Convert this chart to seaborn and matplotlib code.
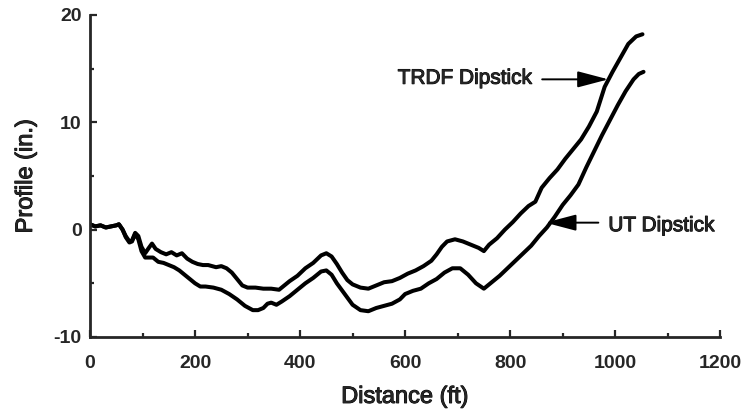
import numpy as np
import pandas as pd
import matplotlib
matplotlib.use("Agg")
import matplotlib.pyplot as plt
import matplotlib.patheffects as pe
import seaborn as sns
from matplotlib.ticker import MultipleLocator

# TRDF Dipstick (upper curve)
trdf_x = [0, 10, 20, 30, 40, 50, 55, 62, 68, 75, 80, 86, 92, 98, 105, 112, 118, 125, 135, 145,
          155, 165, 175, 185, 195, 205, 215, 225, 240, 250, 260, 270, 280, 290, 300, 315, 330,
          345, 360, 370, 380, 395, 410, 425, 440, 450, 460, 470, 480, 490, 500, 515, 530, 545,
          560, 575, 590, 605, 620, 635, 650, 660, 670, 680, 695, 710, 725, 740, 750, 760, 775,
          790, 805, 820, 835, 848, 860, 875, 890, 905, 920, 935, 950, 965, 980, 995, 1010, 1025,
          1040, 1052]
trdf_y = [0.5, 0.3, 0.4, 0.2, 0.3, 0.4, 0.5, 0.0, -0.6, -1.1, -1.0, -0.3, -0.6, -1.6, -2.2, -1.7,
          -1.3, -1.8, -2.1, -2.3, -2.1, -2.4, -2.2, -2.7, -3.0, -3.2, -3.3, -3.3, -3.5, -3.4, -3.6,
          -4.0, -4.6, -5.2, -5.4, -5.4, -5.5, -5.5, -5.6, -5.2, -4.8, -4.3, -3.6, -3.1, -2.4, -2.2,
          -2.5, -3.2, -4.0, -4.7, -5.1, -5.4, -5.5, -5.2, -4.9, -4.8, -4.5, -4.1, -3.8, -3.4, -2.9,
          -2.3, -1.6, -1.1, -0.9, -1.1, -1.4, -1.7, -2.0, -1.4, -0.8, 0.0, 0.7, 1.5, 2.2, 2.6, 3.9,
          4.8, 5.6, 6.6, 7.5, 8.4, 9.6, 11.0, 13.3, 14.7, 16.0, 17.3, 18.0, 18.2]

# UT Dipstick (lower curve)
ut_x = [0, 10, 20, 30, 40, 50, 55, 62, 68, 75, 80, 86, 92, 98, 105, 112, 120, 130, 140, 150,
        160, 170, 180, 190, 200, 210, 220, 235, 250, 265, 280, 295, 310, 320, 330, 338, 345, 355,
        365, 380, 395, 410, 425, 440, 450, 460, 470, 485, 500, 515, 530, 545, 560, 575, 590, 600,
        615, 630, 645, 660, 675, 690, 705, 720, 735, 750, 765, 780, 795, 810, 825, 840, 855, 870,
        885, 900, 915, 930, 945, 960, 975, 990, 1005, 1020, 1035, 1045, 1054]
ut_y = [0.5, 0.3, 0.4, 0.2, 0.3, 0.4, 0.5, 0.0, -0.7, -1.2, -1.1, -0.4, -0.9, -2.0, -2.6, -2.6,
        -2.6, -3.0, -3.1, -3.3, -3.5, -3.8, -4.2, -4.6, -5.0, -5.3, -5.3, -5.4, -5.6, -6.0, -6.5,
        -7.1, -7.5, -7.5, -7.3, -6.9, -6.8, -7.0, -6.7, -6.2, -5.6, -5.0, -4.5, -3.9, -3.8, -4.2,
        -5.0, -6.0, -7.0, -7.5, -7.6, -7.3, -7.1, -6.9, -6.5, -6.0, -5.7, -5.5, -5.0, -4.6, -4.0,
        -3.6, -3.6, -4.2, -5.0, -5.5, -4.9, -4.3, -3.6, -2.9, -2.2, -1.5, -0.6, 0.2, 1.2, 2.3, 3.2,
        4.2, 5.8, 7.3, 8.8, 10.2, 11.6, 12.9, 14.0, 14.5, 14.7]

x_ticks = [0, 200, 400, 600, 800, 1000, 1200]
y_ticks = [-10, 0, 10, 20]

sns.set_style("ticks")
plt.rcParams['font.family'] = ['Liberation Sans', 'DejaVu Sans']
plt.rcParams['axes.unicode_minus'] = False

df = pd.concat([
    pd.DataFrame({"Distance": trdf_x, "Profile": trdf_y, "Series": "TRDF Dipstick"}),
    pd.DataFrame({"Distance": ut_x, "Profile": ut_y, "Series": "UT Dipstick"}),
])

fig = plt.figure(figsize=(7.44, 4.15), dpi=100)
ax = fig.add_axes([0.121, 0.188, 0.847, 0.776])
sns.lineplot(data=df, x="Distance", y="Profile", units="Series", estimator=None,
             color="black", linewidth=2.9, ax=ax, legend=False, sort=False)

ax.set_xlim(0, 1200)
ax.set_ylim(-10, 20)
ax.set_xticks(x_ticks)
ax.set_yticks(y_ticks)
ax.xaxis.set_minor_locator(MultipleLocator(100))
ax.yaxis.set_minor_locator(MultipleLocator(5))
ax.tick_params(which='major', direction='in', length=5, width=1.6, labelsize=14)
ax.tick_params(axis='x', which='major', pad=13)
ax.tick_params(axis='y', which='major', pad=6)
ax.tick_params(which='minor', direction='in', length=3, width=1.6)
for lab in ax.get_xticklabels() + ax.get_yticklabels():
    lab.set_fontweight('bold')
sns.despine(ax=ax)
ax.spines['left'].set_linewidth(2)
ax.spines['bottom'].set_linewidth(2)

thick = [pe.withStroke(linewidth=0.7, foreground='black')]
ax.set_xlabel("Distance (ft)", fontsize=17, labelpad=10, path_effects=thick)
ax.set_ylabel("Profile (in.)", fontsize=17, labelpad=12, path_effects=thick)

arrow = dict(arrowstyle='-|>,head_length=0.95,head_width=0.25', mutation_scale=20,
             color='black', lw=1.4, shrinkA=0, shrinkB=0)
ax.text(842, 14.1, "TRDF Dipstick", ha='right', va='center', fontsize=15, path_effects=thick)
ax.annotate("", xy=(987, 14.0), xytext=(861, 14.0), arrowprops=arrow)
ax.text(987, 0.37, "UT Dipstick", ha='left', va='center', fontsize=15, path_effects=thick)
ax.annotate("", xy=(867, 0.65), xytext=(968, 0.65), arrowprops=arrow)

fig.savefig("out.png", dpi=100)
